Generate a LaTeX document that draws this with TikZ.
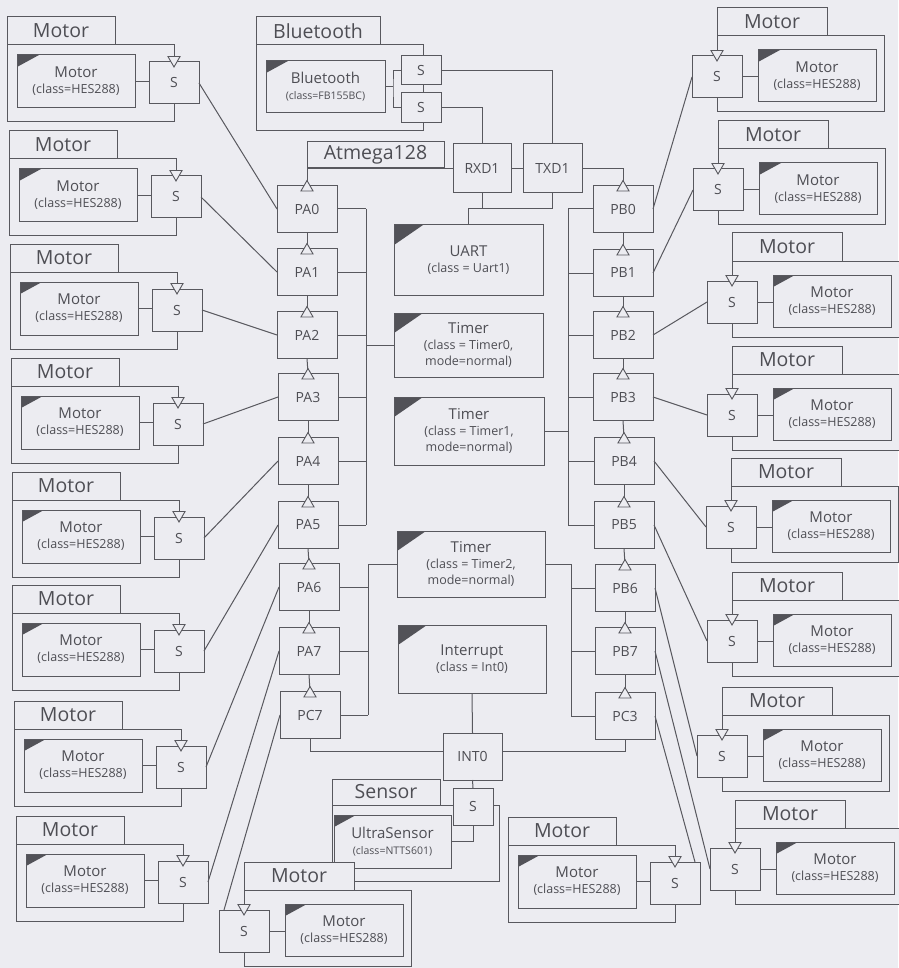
\documentclass[tikz,border=0pt]{standalone}
\usepackage{fontspec}
\setmainfont{Open Sans}
\usetikzlibrary{shapes.geometric}
\definecolor{fond}{RGB}{236,236,241}
\definecolor{gristrait}{RGB}{88,88,94}
\definecolor{gristexte}{RGB}{78,78,84}
\definecolor{griscoin}{RGB}{82,82,88}
\begin{document}
\begin{tikzpicture}[x=1pt,y=-1pt]
% Polices
\def\ftab{\fontsize{19.5}{22}\selectfont}
\def\fnom{\fontsize{15}{17}\selectfont}
\def\fcls{\fontsize{12.5}{16}\selectfont}
\def\fpetit{\fontsize{10.5}{15}\selectfont}
\def\fport{\fontsize{14}{16}\selectfont}
% Styles
\tikzstyle{lien}=[draw=gristrait,line width=1pt]
\tikzstyle{boite}=[draw=gristrait,line width=1pt,fill=fond,text=gristexte,inner sep=0pt,outer sep=0pt,align=center]
\tikzstyle{onglet}=[boite,anchor=north west,minimum width=108pt,minimum height=28pt,font=\ftab]
\tikzstyle{corps}=[boite,anchor=north west]
\tikzstyle{instance}=[boite,anchor=north west,minimum width=118pt,minimum height=53pt,font=\fcls,path picture={\fill[griscoin] (path picture bounding box.north west) -- ++(22pt,0pt) -- ++(-22pt,-12pt) -- cycle;}]
\tikzstyle{grand}=[boite,minimum width=149pt,font=\fcls,path picture={\fill[griscoin] (path picture bounding box.north west) -- ++(29pt,0pt) -- ++(-29pt,-20pt) -- cycle;}]
\tikzstyle{prise}=[boite,minimum width=50pt,minimum height=42pt,font=\fport]
\tikzstyle{port}=[boite,minimum width=60pt,minimum height=47pt,font=\fport]
\tikzstyle{pointe}=[draw=gristrait,line width=0.9pt,fill=fond,regular polygon,regular polygon sides=3,minimum size=14pt,inner sep=0pt,outer sep=0pt]
\tikzstyle{versbas}=[pointe,shape border rotate=180]
\tikzstyle{vershaut}=[pointe]
% Fond
\useasboundingbox (0,0) rectangle (898,968);
\fill[fond] (0,0) rectangle (898,968);
% Bluetooth
\node[onglet,minimum width=124pt] (ogBT) at (256,17) {Bluetooth};
\node[corps,minimum width=167pt,minimum height=86pt] (cpBT) at (256,45) {};
\node[instance,minimum width=119pt,minimum height=52pt] (BT) at (266,61) {{\fnom Bluetooth}\\{\fpetit(class=FB155BC)}};
\node[prise,minimum width=40pt,minimum height=29pt] (sBT1) at (421,70.5) {S};
\node[prise,minimum width=40pt,minimum height=30pt] (sBT2) at (421,108) {S};
\draw[lien] (BT.east) -- ++(8,0) coordinate (jB);
\draw[lien] (sBT1.west) -| (jB) |- (sBT2.west);
% Capteur
\node[onglet,minimum height=26pt] (ogCap) at (332,779) {Sensor};
\node[corps,minimum width=167pt,minimum height=76pt] (cpCap) at (332,805) {};
\node[instance,minimum width=117pt] (Cap) at (334,815) {{\fnom UltraSensor}\\{\fpetit(class=NTTS601)}};
\node[prise,minimum width=40pt,minimum height=37pt] (sCap) at (473,806.5) {S};
\draw[lien] (Cap.east) -| (sCap.south);
% Moteurs avec S a droite
\foreach \n/\X/\Y in {1/7/17,2/9/131,3/10/244,4/11/358,5/12/472,6/12/585,7/14/701,8/16/816,9/508/817}{
  \node[onglet] (ogG\n) at (\X,\Y) {Motor};
  \node[corps,minimum width=167pt,minimum height=77pt] (cpG\n) at (\X,\Y+28) {};
  \node[instance] (mtG\n) at (\X+10,\Y+38) {{\fnom Motor}\\(class=HES288)};
  \node[prise] (sG\n) at (\X+167,\Y+66) {S};
  \draw[lien] (mtG\n.east) -- (mtG\n.east -| sG\n.west);
  \node[versbas] at ([yshift=2pt]sG\n.north) {};
}
% Moteurs avec S a gauche
\foreach \n/\X/\Y in {1/717/8,2/718/121,3/732/233,4/732/346,5/731/458,6/732/572,7/722/687,8/735/800,9/244/862}{
  \node[onglet,minimum width=110pt] (ogD\n) at (\X,\Y) {Motor};
  \node[corps,minimum width=167pt,minimum height=76pt] (cpD\n) at (\X,\Y+28) {};
  \node[instance,minimum height=52pt] (mtD\n) at (\X+41,\Y+42) {{\fnom Motor}\\(class=HES288)};
  \node[prise] (sD\n) at (\X,\Y+69) {S};
  \draw[lien] (sD\n.east) -- (sD\n.east -| mtD\n.west);
  \node[versbas] at ([yshift=2pt]sD\n.north) {};
}
% Atmega128
\node[onglet,minimum width=137pt,minimum height=26pt] (ogAtm) at (307,142) {Atmega128};
\node[port,minimum width=58pt,minimum height=49pt] (RXD1) at (482,168.5) {RXD1};
\node[port,minimum width=59pt,minimum height=49pt] (TXD1) at (552.5,168.5) {TXD1};
\node[port,minimum width=59pt] (INT0) at (472.5,756.5) {INT0};
\foreach \p/\x/\y in {PA0/307/209,PA1/307/272,PA2/307/335,PA3/308/397,PA4/308/461,PA5/308/525,PA6/309/587,PA7/309/651,PC7/310/715,
  PB0/623/209,PB1/623/273,PB2/623/335,PB3/623/397,PB4/624/461,PB5/624/525,PB6/625/588,PB7/625/651,PC3/625/716}
  \node[port] (\p) at (\x,\y) {\p};
\node[grand,minimum height=70pt] (UART) at (468.5,260) {{\fnom UART}\\(class = Uart1)};
\node[grand,minimum height=64pt] (Timer0) at (468.5,345) {{\fnom Timer}\\(class = Timer0,\\mode=normal)};
\node[grand,minimum width=150pt,minimum height=68pt] (Timer1) at (469,431) {{\fnom Timer}\\(class = Timer1,\\mode=normal)};
\node[grand,minimum width=148pt,minimum height=66pt] (Timer2) at (471,564) {{\fnom Timer}\\(class = Timer2,\\mode=normal)};
\node[grand,minimum width=148pt,minimum height=68pt] (Interrupt) at (472,659) {{\fnom Interrupt}\\(class = Int0)};
% Cadre du microcontroleur
\draw[lien] (PA0.north) |- (RXD1.west);
\draw[lien] (RXD1.east) -- (TXD1.west);
\draw[lien] (TXD1.east) -| (PB0.north);
\draw[lien] (PC7.south) |- ([yshift=5pt]INT0.west);
\draw[lien] ([yshift=5pt]INT0.east) -| (PC3.south);
\foreach \a/\b in {PA0/PA1,PA1/PA2,PA2/PA3,PA3/PA4,PA4/PA5,PA5/PA6,PA6/PA7,PA7/PC7,
  PB0/PB1,PB1/PB2,PB2/PB3,PB3/PB4,PB4/PB5,PB5/PB6,PB6/PB7,PB7/PC3}
  \draw[lien] (\a.south) -- (\b.north);
\foreach \p in {PA0,PA1,PA2,PA3,PA4,PA5,PA6,PA7,PC7,PB0,PB1,PB2,PB3,PB4,PB5,PB6,PB7,PC3}
  \node[vershaut] at ([yshift=-2pt]\p.north) {};
% Bus internes
\coordinate (busA) at (366,0);
\coordinate (busB) at (568,0);
\coordinate (busC) at (368,0);
\coordinate (busD) at (571,0);
\foreach \p in {PA0,PA1,PA2,PA3,PA4,PA5} \draw[lien] (\p.east) -- (\p.east -| busA);
\draw[lien] (PA0.east -| busA) -- (PA5.east -| busA);
\draw[lien] (Timer0.west) -- (Timer0.west -| busA);
\foreach \p in {PB0,PB1,PB2,PB3,PB4,PB5} \draw[lien] (\p.west) -- (\p.west -| busB);
\draw[lien] (PB0.west -| busB) -- (PB5.west -| busB);
\draw[lien] (Timer1.east) -- (Timer1.east -| busB);
\foreach \p in {PA6,PA7,PC7} \draw[lien] (\p.east) -- (\p.east -| busC);
\draw[lien] (Timer2.west) -| (PC7.east -| busC);
\foreach \p in {PB6,PB7,PC3} \draw[lien] (\p.west) -- (\p.west -| busD);
\draw[lien] (Timer2.east) -| (PC3.west -| busD);
% UART, interruption, Bluetooth
\draw[lien] (UART.north) -- ++(0,-16) coordinate (jU) -| (TXD1.south);
\draw[lien] (jU) -| (RXD1.south);
\draw[lien] (Interrupt.south) -- (INT0.north);
\draw[lien] (INT0.south) -- (sCap.north);
\draw[lien] (sBT1.east) -| (TXD1.north);
\draw[lien] (sBT2.east) -| (RXD1.north);
% Moteurs vers ports
\foreach \n/\p in {1/PA0,2/PA1,3/PA2,4/PA3,5/PA4,6/PA5,7/PA6,8/PA7}
  \draw[lien] (sG\n.east) -- (\p.west);
\foreach \n/\p in {1/PB0,2/PB1,3/PB2,4/PB3,5/PB4,6/PB5,7/PB6,8/PB7}
  \draw[lien] (\p.east) -- (sD\n.west);
\draw[lien] (PC7.west) -- ([xshift=5pt]sD9.north west);
\draw[lien] (PC3.east) -- ([xshift=-5pt]sG9.north east);
\end{tikzpicture}
\end{document}
